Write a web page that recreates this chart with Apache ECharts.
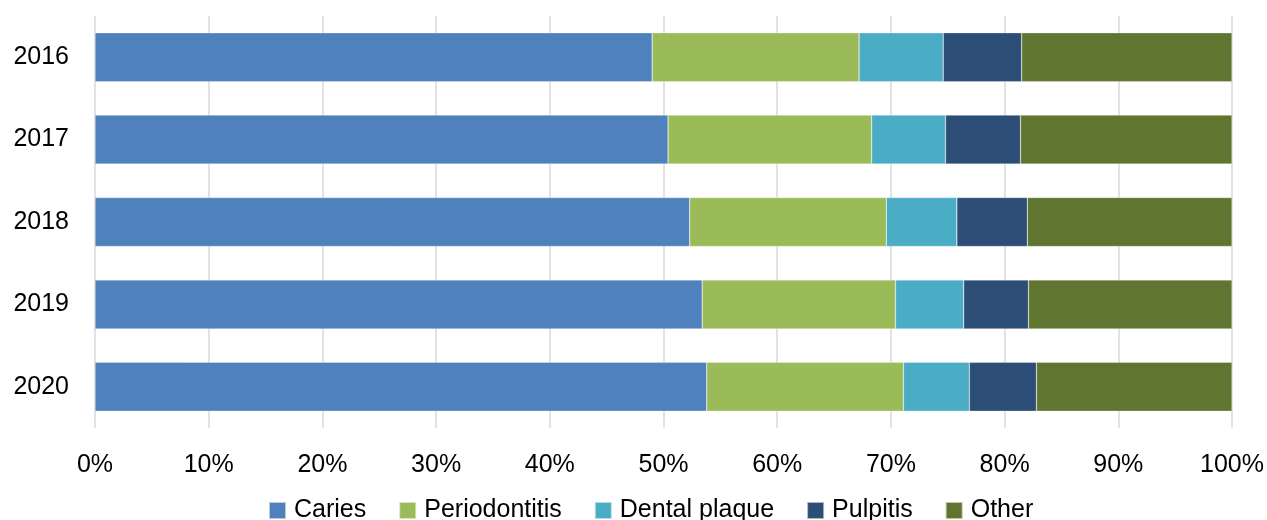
<!DOCTYPE html>
<html>
<head>
<meta charset="utf-8">
<script src="https://cdn.jsdelivr.net/npm/echarts@6/dist/echarts.min.js"></script>
<style>
  html, body { margin: 0; padding: 0; background: #ffffff; }
  #chart { width: 1267px; height: 520px; }
</style>
</head>
<body>
<div id="chart"></div>
<script>
// Share of diagnoses per year (percent of total)
const years = ['2016', '2017', '2018', '2019', '2020'];
const caries = [49.0, 50.4, 52.3, 53.4, 53.8];
const periodontitis = [18.2, 17.9, 17.3, 17.0, 17.3];
const dentalPlaque = [7.4, 6.5, 6.2, 6.0, 5.8];
const pulpitis = [6.9, 6.6, 6.2, 5.7, 5.9];
const other = [18.5, 18.6, 18.0, 17.9, 17.2];
const xTicks = [0, 10, 20, 30, 40, 50, 60, 70, 80, 90, 100];

const FONT = '"Liberation Sans", Arial, sans-serif';

const seriesDefs = [
  { name: 'Caries', data: caries, color: '#4F81BD' },
  { name: 'Periodontitis', data: periodontitis, color: '#9BBB59' },
  { name: 'Dental plaque', data: dentalPlaque, color: '#4BACC6' },
  { name: 'Pulpitis', data: pulpitis, color: '#2C4D75' },
  { name: 'Other', data: other, color: '#5F7530' }
];

const chart = echarts.init(document.getElementById('chart'), null, { renderer: 'canvas' });

chart.setOption({
  animation: false,
  backgroundColor: '#ffffff',
  textStyle: { fontFamily: FONT },
  grid: { left: 95, right: 30, top: 16, bottom: 92, containLabel: false },
  legend: {
    top: 498,
    left: 268,
    padding: 0,
    itemWidth: 17,
    itemHeight: 17,
    itemGap: 32,
    icon: 'rect',
    textStyle: { fontFamily: FONT, fontSize: 25, color: '#000000', padding: [0, 0, 0, 3] },
    data: seriesDefs.map(s => s.name)
  },
  xAxis: {
    type: 'value',
    min: xTicks[0],
    max: xTicks[xTicks.length - 1],
    interval: xTicks[1] - xTicks[0],
    axisLine: { show: false },
    axisTick: { show: false },
    splitLine: { show: true, lineStyle: { color: '#d9d9d9', width: 1.5 } },
    axisLabel: {
      fontFamily: FONT,
      fontSize: 25,
      color: '#000000',
      margin: 25,
      formatter: v => v + '%'
    }
  },
  yAxis: {
    type: 'category',
    inverse: true,
    data: years,
    axisLine: { show: false },
    axisTick: { show: false },
    axisLabel: { fontFamily: FONT, fontSize: 25, color: '#000000', margin: 26 }
  },
  series: seriesDefs.map(s => ({
    name: s.name,
    type: 'bar',
    stack: 'total',
    barWidth: 49,
    data: s.data,
    itemStyle: { color: s.color, borderColor: 'rgba(255,255,255,0.6)', borderWidth: 0.5 }
  }))
});
</script>
</body>
</html>
